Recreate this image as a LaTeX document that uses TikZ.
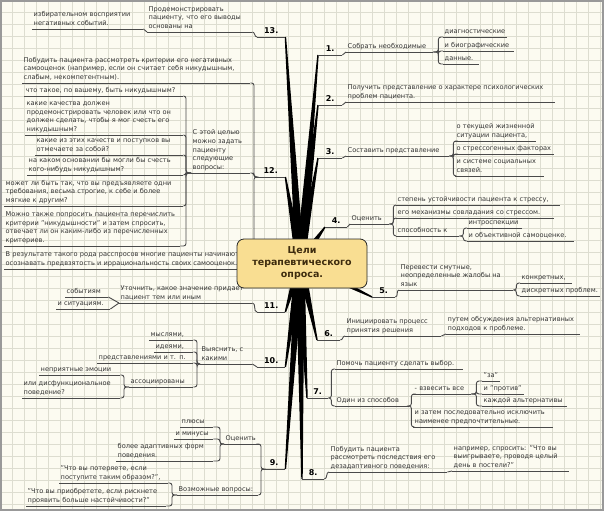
\documentclass[tikz,border=0pt]{standalone}
\usepackage{fontspec}
\setmainfont{DejaVu Sans}
\usetikzlibrary{calc}

\definecolor{paper}{HTML}{FCFBF1}
\definecolor{gridline}{HTML}{DDDDD0}
\definecolor{ink}{HTML}{333333}
\definecolor{rule}{HTML}{4A4A4A}
\definecolor{goalfill}{HTML}{F9DE92}
\definecolor{goalink}{HTML}{3E2C0E}

\tikzset{
  txt/.style={anchor=south west, align=left, text width=#1pt, inner xsep=1.5pt, inner ysep=1pt,
    text=ink, font=\fontsize{6.6}{8.6}\selectfont, execute at end node=\strut},
  num/.style={anchor=south west, minimum width=#1pt, inner xsep=0pt, inner ysep=1pt,
    font=\bfseries\fontsize{8}{9}\selectfont, execute at end node=\strut},
  uline/.style={draw=rule, line width=0.9pt},
  link/.style={draw=rule, line width=0.9pt, rounded corners=2.5pt},
  branch/.style={fill=black},
  goal/.style={draw=black!85, fill=goalfill, rounded corners=7pt, line width=0.8pt,
    minimum width=130pt, minimum height=49pt, align=center, text=goalink,
    font=\bfseries\fontsize{9.5}{12}\selectfont}
}

\begin{document}
\begin{tikzpicture}[x=1pt,y=-1pt]

\useasboundingbox (0,0) rectangle (604,511);
\fill[paper] (0,0) rectangle (604,511);
\foreach \gx in {0,12,...,600} \draw[gridline] (\gx,0) -- (\gx,511);
\foreach \gy in {0,12,...,504} \draw[gridline] (0,\gy) -- (604,\gy);
\draw[black!40, line width=2pt] (1,1) rectangle (603,510);

\coordinate (hubc) at (300,262);

%% right side
\node[num=24] (n1) at (318,55) {1.};
\node[txt=84] (t1) at (346,52) {Собрать необходимые};
\node[txt=61] (c1a) at (443,37) {диагностические};
\node[txt=68] (c1b) at (443,51) {и биографические};
\node[txt=33] (c1c) at (443,64) {данные.};

\node[num=24] (n2) at (318,105) {2.};
\node[txt=206] (t2) at (346,102) {Получить представление о характере психологических\\проблем пациента.};

\node[num=24] (n3) at (318,158) {3.};
\node[txt=100] (t3) at (346,156) {Составить представление};
\node[txt=78] (c3a) at (455,141) {\mbox{о текущей жизненной}\\ситуации пациента,};
\node[txt=96] (c3b) at (455,154) {о стрессогенных факторах};
\node[txt=86] (c3c) at (455,176) {и системе социальных\\связей.};

\node[num=22] (n4) at (325,227) {4.};
\node[txt=36] (t4) at (350,224) {Оценить};
\node[txt=161] (c4a) at (396,205) {степень устойчивости пациента к стрессу,};
\node[txt=155] (c4b) at (396,218) {его механизмы совладания со стрессом.};
\node[txt=60] (c4c) at (396,236) {способность к};
\node[txt=52] (c4d) at (467,228) {интроспекции};
\node[txt=104] (c4e) at (467,241) {и объективной самооценке.};

\node[num=23] (n5) at (372,297) {5.};
\node[txt=111] (t5) at (399,290) {Перевести смутные,\\неопределенные жалобы на\\язык};
\node[txt=49] (c5a) at (520,283) {конкретных,};
\node[txt=77] (c5b) at (520,296) {дискретных проблем.};

\node[num=23] (n6) at (317,340) {6.};
\node[txt=93] (t6) at (345,336) {Инициировать процесс\\принятия решения};
\node[txt=131] (c6) at (446,334) {путем обсуждения альтернативных\\подходов к проблеме.};

\node[num=21] (n7) at (307,398) {7.};
\node[txt=125] (c7a) at (335,369) {Помочь пациенту сделать выбор.};
\node[txt=71] (c7b) at (335,406) {Один из способов};
\node[txt=55] (c7c) at (413,394) {- взвесить все};
\node[txt=137] (c7d) at (413,427) {и затем последовательно исключить\\наименее предпочтительные.};
\node[txt=15] (c7e) at (482,381) {"за"};
\node[txt=39] (c7f) at (482,394) {и "против"};
\node[txt=82] (c7g) at (482,406) {каждой альтернативы};

\node[num=22] (n8) at (302,479) {8.};
\node[txt=115] (t8) at (329,472) {Побудить пациента\\рассмотреть последствия его\\дезадаптивного поведения:};
\node[txt=114] (c8) at (452,471) {например, спросить: "Что вы\\выигрываете, проводя целый\\день в постели?"};

%% left side
\node[num=22] (n9) at (263,469) {9.};
\node[txt=32] (t9a) at (224,444) {Оценить};
\node[txt=78] (t9b) at (177,495) {Возможные вопросы:};
\node[txt=30] (c9a) at (180,427) {плюсы};
\node[txt=36] (c9b) at (174,439) {и минусы};
\node[txt=94] (c9c) at (116,461) {более адаптивных форм\\поведения.};
\node[txt=106] (c9d) at (59,483) {"Что вы потеряете, если\\поступите таким образом?",};
\node[txt=137] (c9e) at (26,506) {"Что вы приобретете, если рискнете\\проявить больше настойчивости?"};

\node[num=28] (n10) at (257,367) {10.};
\node[txt=49] (t10) at (200,364) {Выяснить, с\\какими};
\node[txt=41] (c10a) at (149,340) {мыслями,};
\node[txt=36] (c10b) at (154,352) {идеями,};
\node[txt=93] (c10c) at (97,363) {представлениями и т. п.};
\node[txt=61] (c10d) at (129,387) {ассоциированы};
\node[txt=78] (c10e) at (39,375) {неприятные эмоции};
\node[txt=95] (c10f) at (22,398) {или дисфункциональное\\поведение?};

\node[num=28] (n11) at (257,312) {11.};
\node[txt=130] (t11) at (119,303) {Уточнить, какое значение придает\\пациент тем или иным};
\node[txt=40] (c11a) at (65,297) {событиям};
\node[txt=51] (c11b) at (56,309) {и ситуациям.};

\node[num=29] (n12) at (256,177) {12.};
\node[txt=56] (t12) at (191,173) {С этой целью\\можно задать\\пациенту\\следующие\\вопросы:};
\node[txt=225] (t12top) at (22,83) {Побудить пациента рассмотреть критерии его негативных\\самооценок (например, если он считает себя никудышным,\\слабым, некомпетентным).};
\node[txt=243] (t12bot) at (4,269) {В результате такого рода расспросов многие пациенты начинают\\осознавать предвзятость и иррациональность своих самооценок.};
\node[txt=156] (c12a) at (24,96) {что такое, по вашему, быть никудышным?};
\node[txt=155] (c12b) at (25,135) {какие качества должен\\продемонстрировать человек или что он\\должен сделать, чтобы я мог счесть его\\никудышным?};
\node[txt=145] (c12c) at (35,155) {какие из этих качеств и поступков вы\\отмечаете за собой?};
\node[txt=153] (c12d) at (27,175) {на каком основании бы могли бы счесть\\кого-нибудь никудышным?};
\node[txt=176] (c12e) at (4,206) {может ли быть так, что вы предъявляете одни\\требования, весьма строгие, к себе и более\\мягкие к другим?};
\node[txt=173] (c12f) at (4,246) {Можно также попросить пациента перечислить\\критерии "никудышности" и затем спросить,\\отвечает ли он каким-либо из перечисленных\\критериев.};

\node[num=28] (n13) at (257,37) {13.};
\node[txt=102] (t13) at (147,32) {Продемонстрировать\\пациенту, что его выводы\\основаны на};
\node[txt=108] (c13) at (32,29) {избирательном восприятии\\негативных событий.};

%% branches
\foreach \e in {n1.south west,n2.south west,n3.south west,n4.south west,n5.south west,
  n6.south west,n7.south west,n8.south west,n9.south east,n10.south east,
  n11.south east,n12.south east,n13.south east}
  \fill[branch] ($(hubc)!4.5pt!90:(\e)$) -- ($(\e)!0.7pt!-90:(hubc)$)
    -- ($(\e)!0.7pt!90:(hubc)$) -- ($(hubc)!4.5pt!-90:(\e)$) -- cycle;

%% underlines
\foreach \n in {n1,t1,c1a,c1b,c1c,n2,t2,n3,t3,c3a,c3b,c3c,n4,t4,c4a,c4b,c4c,c4d,c4e,
  n5,t5,c5a,c5b,n6,t6,c6,n7,c7a,c7b,c7c,c7d,c7e,c7f,c7g,n8,t8,c8,
  n9,t9a,t9b,c9a,c9b,c9c,c9d,c9e,n10,t10,c10a,c10b,c10c,c10d,c10e,c10f,
  n11,t11,c11a,c11b,n12,t12,t12top,t12bot,c12a,c12b,c12c,c12d,c12e,c12f,n13,t13,c13}
  \draw[uline] (\n.south west) -- (\n.south east);

%% links, right
\draw[link] (n1.south east) to[out=0,in=180] (t1.south west);
\foreach \c in {c1a,c1b,c1c} \draw[link] (t1.south east) -- ++(5,0) |- (\c.south west);
\draw[link] (n2.south east) to[out=0,in=180] (t2.south west);
\draw[link] (n3.south east) to[out=0,in=180] (t3.south west);
\foreach \c in {c3a,c3b,c3c} \draw[link] (t3.south east) -- ++(4,0) |- (\c.south west);
\draw[link] (n4.south east) to[out=0,in=180] (t4.south west);
\foreach \c in {c4a,c4b,c4c} \draw[link] (t4.south east) -- ++(4,0) |- (\c.south west);
\foreach \c in {c4d,c4e} \draw[link] (c4c.south east) -- ++(4,0) |- (\c.south west);
\draw[link] (n5.south east) to[out=0,in=180] (t5.south west);
\foreach \c in {c5a,c5b} \draw[link] (t5.south east) -- ++(3,0) |- (\c.south west);
\draw[link] (n6.south east) to[out=0,in=180] (t6.south west);
\draw[link] (t6.south east) to[out=0,in=180] (c6.south west);
\foreach \c in {c7a,c7b} \draw[link] (n7.south east) -- ++(3,0) |- (\c.south west);
\foreach \c in {c7c,c7d} \draw[link] (c7b.south east) -- ++(2,0) |- (\c.south west);
\foreach \c in {c7e,c7f,c7g} \draw[link] (c7c.south east) -- ++(5,0) |- (\c.south west);
\draw[link] (n8.south east) to[out=0,in=180] (t8.south west);
\draw[link] (t8.south east) to[out=0,in=180] (c8.south west);

%% links, left
\foreach \c in {t9a,t9b} \draw[link] (n9.south west) -- ++(-2,0) |- (\c.south east);
\foreach \c in {c9a,c9b,c9c} \draw[link] (t9a.south west) -- ++(-4,0) |- (\c.south east);
\foreach \c in {c9d,c9e} \draw[link] (t9b.south west) -- ++(-5,0) |- (\c.south east);
\draw[link] (n10.south west) to[out=180,in=0] (t10.south east);
\foreach \c in {c10a,c10b,c10c,c10d} \draw[link] (t10.south west) -- ++(-3,0) |- (\c.south east);
\foreach \c in {c10e,c10f} \draw[link] (c10d.south west) -- ++(-5,0) |- (\c.south east);
\draw[link] (n11.south west) to[out=180,in=0] (t11.south east);
\draw[link] (t11.south west) -- (c11a.south east);
\draw[link] (t11.south west) -- (c11b.south east);
\foreach \c in {t12top,t12,t12bot} \draw[link] (n12.south west) -- ++(-2,0) |- (\c.south east);
\foreach \c in {c12a,c12b,c12c,c12d,c12e,c12f} \draw[link] (t12.south west) -- ++(-5,0) |- (\c.south east);
\draw[link] (n13.south west) to[out=180,in=0] (t13.south east);
\draw[link] (t13.south west) to[out=180,in=0] (c13.south east);

\node[goal] (aims) at (302,263.5) {Цели\\терапевтического\\опроса.};

\end{tikzpicture}
\end{document}
